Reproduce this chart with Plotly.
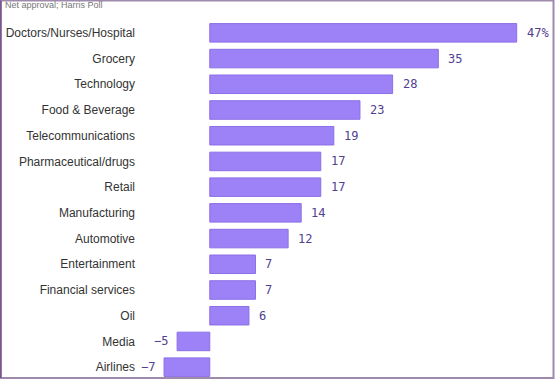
import plotly.graph_objects as go

categories = ["Doctors/Nurses/Hospital", "Grocery", "Technology", "Food & Beverage",
              "Telecommunications", "Pharmaceutical/drugs", "Retail", "Manufacturing",
              "Automotive", "Entertainment", "Financial services", "Oil", "Media", "Airlines"]
values = [47, 35, 28, 23, 19, 17, 17, 14, 12, 7, 7, 6, -5, -7]
labels = ["47%", "35", "28", "23", "19", "17", "17", "14", "12", "7", "7", "6", "\u22125", "\u22127"]
subtitle = "Net approval; Harris Poll"

W, H = 555, 380
L, R, T, B = 151, 5, 20, 0
pw, ph = W - L - R, H - T - B

def px_x(x):
    return (x - L) / pw

def px_y(y):
    return (H - B - y) / ph

fig = go.Figure()
fig.add_trace(go.Bar(
    x=values, y=categories, orientation="h",
    marker=dict(color="#9d81f6", line=dict(color="#8b6fe6", width=1)),
    hoverinfo="skip",
))

for c, v, t in zip(categories, values, labels):
    fig.add_annotation(
        x=v, y=c, text=t, showarrow=False,
        xanchor="left" if v >= 0 else "right",
        xshift=8 if v >= 0 else -7,
        font=dict(family="DejaVu Sans Mono, monospace", size=12, color="#4f4190"),
    )

fig.add_annotation(
    x=px_x(3), y=px_y(5), xref="paper", yref="paper", text=subtitle,
    showarrow=False, xanchor="left", yanchor="middle",
    font=dict(family="Liberation Sans, Arial", size=9, color="#777777"),
)

# frame
fig.add_shape(type="rect", xref="paper", yref="paper",
              x0=px_x(0.5), x1=px_x(553.5), y0=px_y(378), y1=px_y(0.5),
              line=dict(color="#a08aab", width=2), layer="above")
fig.add_shape(type="line", xref="paper", yref="paper",
              x0=px_x(0.7), x1=px_x(0.7), y0=px_y(378), y1=px_y(0.5),
              line=dict(color="#7a5690", width=2), layer="above")

fig.update_layout(
    width=W, height=H,
    margin=dict(l=L, r=R, t=T, b=B),
    plot_bgcolor="white", paper_bgcolor="white",
    bargap=0.28, showlegend=False,
    font=dict(family="Liberation Sans, Arial", size=12, color="#333333"),
)
fig.update_xaxes(range=[-9, -9 + pw / 6.53], visible=False, fixedrange=True)
fig.update_yaxes(autorange="reversed", showgrid=False, zeroline=False, showline=False,
                 ticks="", ticklabelstandoff=15, fixedrange=True,
                 tickfont=dict(family="Liberation Sans, Arial", size=12, color="#333333"))

fig.write_html("out.html", config={"displayModeBar": False},
               post_script="document.body.style.margin='0';document.body.style.overflow='hidden';")
